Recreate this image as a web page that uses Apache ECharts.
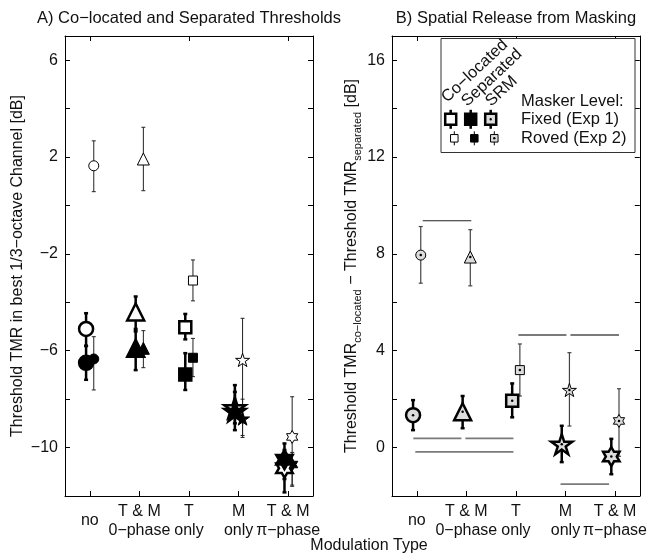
<!DOCTYPE html>
<html><head><meta charset="utf-8">
<script src="https://cdn.jsdelivr.net/npm/echarts@6/dist/echarts.min.js"></script>
<style>html,body{margin:0;padding:0;background:#fff}#c{width:650px;height:557px}</style>
</head><body><div id="c"></div>
<script>
// ---------------- data ----------------
const categories = ['no', 'T & M\n0\u2212phase', 'T\nonly', 'M\nonly', 'T & M\n\u03c0\u2212phase'];
const leftTicks = [6, 2, -2, -6, -10];
const rightTicks = [16, 12, 8, 4, 0];

// Panel A: thresholds (mean, lower, upper)
const fixedColocMean = [-5.1, -4.4, -5.03, -8.35, -10.85];
const fixedColocLo   = [-5.8, -5.2, -5.53, -9.0, -11.85];
const fixedColocHi   = [-4.45, -3.76, -4.48, -7.42, -10.1];

const fixedSepMean = [-6.5, -5.9, -6.98, -8.5, -10.5];
const fixedSepLo   = [-7.2, -6.8, -7.62, -9.28, -11.3];
const fixedSepHi   = [-5.8, -5.1, -6.1, -7.7, -9.83];

const rovedColocMean = [1.64, 1.92, -3.1, -6.38, -9.56];
const rovedColocLo   = [0.57, 0.61, -3.94, -9.58, -11.6];
const rovedColocHi   = [2.67, 3.23, -2.25, -4.66, -7.9];

const rovedSepMean = [-6.34, -5.9, -6.29, -8.8, -10.7];
const rovedSepLo   = [-7.62, -6.7, -7.07, -9.5, -11.55];
const rovedSepHi   = [-5.42, -5.17, -5.49, -8.0, -10.2];

// Panel B: spatial release from masking
const fixedSrmMean = [1.34, 1.48, 1.93, 0.14, -0.37];
const fixedSrmLo   = [0.72, 0.8, 1.25, -0.6, -1.1];
const fixedSrmHi   = [1.96, 2.13, 2.65, 0.9, 0.36];

const rovedSrmMean = [7.95, 7.87, 3.2, 2.38, 1.1];
const rovedSrmLo   = [6.79, 6.68, 2.13, 0.89, -0.36];
const rovedSrmHi   = [9.13, 9.0, 4.28, 3.92, 2.43];

// significance bars in panel B: [x start, x end, y]
const sigLines = [
  [1.12, 2.1, 9.37],
  [0.93, 1.9, 0.38],
  [1.98, 2.95, 0.38],
  [0.97, 2.95, -0.18],
  [3.05, 4.02, 4.65],
  [4.1, 5.08, 4.65],
  [3.9, 4.88, -1.51]
];

// ---------------- styling ----------------
const FONT = 'Liberation Sans, Arial, Helvetica, sans-serif';
const TXT = '#111';
function starPath(n, rIn) {
  let d = '';
  for (let k = 0; k < 2 * n; k++) {
    const r = k % 2 === 0 ? 1 : rIn;
    const a = -Math.PI / 2 + k * Math.PI / n;
    d += (k === 0 ? 'M' : 'L') + (r * Math.cos(a)).toFixed(4) + ' ' + (r * Math.sin(a)).toFixed(4) + ' ';
  }
  return 'path://' + d + 'Z';
}
const PENTA = starPath(5, 0.382);
const HEXA = starPath(6, 0.577);
const shapes = ['circle', 'triangle', 'rect', PENTA, HEXA];
const bigSize = [14, 17, 12, 21, 19];
const smallSize = [10, 12, 9, 14, 13];
const OFF_BIG = -0.075, OFF_SMALL = 0.08;
const SRM_FILL = '#dcdcdc';

function fmt(v) { return String(v).replace('-', '\u2212'); }

function markerSeries(xi, yi, means, off, sizes, fill, lw) {
  return {
    type: 'scatter', xAxisIndex: xi, yAxisIndex: yi, z: 5, silent: true,
    symbolKeepAspect: true,
    data: means.map((m, i) => ({ value: [i + 1 + off, m], symbol: shapes[i], symbolSize: sizes[i] })),
    itemStyle: { color: fill, borderColor: '#000', borderWidth: lw, opacity: 1 }
  };
}
function dotSeries(xi, yi, means, off) {
  return {
    type: 'scatter', xAxisIndex: xi, yAxisIndex: yi, z: 6, silent: true,
    symbol: 'circle', symbolSize: 2.5,
    data: means.map((m, i) => [i + 1 + off, m]),
    itemStyle: { color: '#000', opacity: 1 }
  };
}
function errSeries(xi, yi, lo, hi, off, lw, color, cap) {
  return {
    type: 'custom', xAxisIndex: xi, yAxisIndex: yi, z: 3, silent: true,
    data: lo.map((l, i) => [i + 1 + off, l, hi[i]]),
    renderItem: function (params, api) {
      const a = api.coord([api.value(0), api.value(1)]);
      const b = api.coord([api.value(0), api.value(2)]);
      const st = { stroke: color, lineWidth: lw };
      return {
        type: 'group', children: [
          { type: 'line', shape: { x1: a[0], y1: a[1], x2: b[0], y2: b[1] }, style: st },
          { type: 'line', shape: { x1: a[0] - cap, y1: a[1], x2: a[0] + cap, y2: a[1] }, style: st },
          { type: 'line', shape: { x1: b[0] - cap, y1: b[1], x2: b[0] + cap, y2: b[1] }, style: st }
        ]
      };
    }
  };
}
function sigSeries() {
  return {
    type: 'custom', xAxisIndex: 5, yAxisIndex: 2, z: 2, silent: true,
    data: sigLines,
    renderItem: function (params, api) {
      const a = api.coord([api.value(0), api.value(2)]);
      const b = api.coord([api.value(1), api.value(2)]);
      const first = params.dataIndex === 0;
      return { type: 'line', shape: { x1: a[0], y1: a[1], x2: b[0], y2: b[1] },
        style: { stroke: first ? '#222' : '#7a7a7a', lineWidth: first ? 1.2 : 1.8 } };
    }
  };
}

const grids = [
  { left: 65, top: 36, width: 248, height: 460 },
  { left: 392, top: 36, width: 248, height: 460 }
];
const axLine = { show: true, onZero: false, lineStyle: { color: '#000', width: 1 } };
function catAxis(g, pos, labels) {
  return {
    type: 'category', gridIndex: g, position: pos, data: categories, boundaryGap: true,
    axisLine: axLine,
    axisTick: { show: true, alignWithLabel: true, inside: true, length: 5, lineStyle: { color: '#000' } },
    axisLabel: labels ? { show: true, interval: 0, fontSize: 16, lineHeight: 19, color: TXT, fontFamily: FONT,
      verticalAlign: 'middle', margin: 25 } : { show: false },
    splitLine: { show: false }
  };
}
function valX(g) { return { type: 'value', gridIndex: g, min: 0.5, max: 5.5, show: false, axisLine: { onZero: false } }; }
function valY(g, pos, min, max, ticks, labels, name, nameGap, rich) {
  const ax = {
    type: 'value', gridIndex: g, position: pos, min: min, max: max, interval: 2,
    axisLine: axLine,
    axisTick: { show: true, inside: true, length: 5, lineStyle: { color: '#000' } },
    axisLabel: labels ? { show: true, fontSize: 16, color: TXT, fontFamily: FONT, margin: 7,
      formatter: v => ticks.indexOf(v) >= 0 ? fmt(v) : '' } : { show: false },
    splitLine: { show: false }
  };
  if (name) {
    ax.name = name; ax.nameLocation = 'middle'; ax.nameGap = nameGap;
    ax.nameTextStyle = { fontSize: 16, color: TXT, fontFamily: FONT };
    if (rich) ax.nameTextStyle.rich = rich;
  }
  return ax;
}

const richName = {
  m: { fontSize: 16, color: TXT, fontFamily: FONT, lineHeight: 22, verticalAlign: 'middle' },
  s: { fontSize: 11, color: TXT, fontFamily: FONT, lineHeight: 10, verticalAlign: 'bottom' }
};

const option = {
  animation: false,
  backgroundColor: '#fff',
  grid: grids,
  xAxis: [catAxis(0, 'bottom', true), catAxis(0, 'top', false), valX(0),
          catAxis(1, 'bottom', true), catAxis(1, 'top', false), valX(1)],
  yAxis: [
    valY(0, 'left', -12, 7, leftTicks, true, 'Threshold TMR in best 1/3\u2212octave Channel [dB]', 39),
    valY(0, 'right', -12, 7, leftTicks, false),
    valY(1, 'left', -2, 17, rightTicks, true,
      '{m|Threshold TMR}{s|co\u2212located}{m| \u2212 Threshold TMR}{s|separated}{m| [dB]}', 29, richName),
    valY(1, 'right', -2, 17, rightTicks, false)
  ],
  series: [
    // Panel A error bars
    errSeries(2, 0, fixedColocLo, fixedColocHi, OFF_BIG, 2.5, '#000', 2),
    errSeries(2, 0, fixedSepLo, fixedSepHi, OFF_BIG, 2.5, '#000', 2),
    errSeries(2, 0, rovedColocLo, rovedColocHi, OFF_SMALL, 1, '#222', 2),
    errSeries(2, 0, rovedSepLo, rovedSepHi, OFF_SMALL, 1, '#222', 2),
    // Panel A markers
    markerSeries(2, 0, rovedColocMean, OFF_SMALL, smallSize, '#fff', 1),
    markerSeries(2, 0, rovedSepMean, OFF_SMALL, smallSize, '#000', 1),
    markerSeries(2, 0, fixedColocMean, OFF_BIG, bigSize, '#fff', 2.5),
    markerSeries(2, 0, fixedSepMean, OFF_BIG, bigSize, '#000', 2.5),
    // Panel B
    sigSeries(),
    errSeries(5, 2, rovedSrmLo, rovedSrmHi, OFF_SMALL, 1.2, '#444', 2),
    errSeries(5, 2, fixedSrmLo, fixedSrmHi, OFF_BIG, 2.5, '#000', 2),
    markerSeries(5, 2, rovedSrmMean, OFF_SMALL, smallSize, SRM_FILL, 1),
    markerSeries(5, 2, fixedSrmMean, OFF_BIG, bigSize, SRM_FILL, 2.5),
    dotSeries(5, 2, rovedSrmMean, OFF_SMALL),
    dotSeries(5, 2, fixedSrmMean, OFF_BIG)
  ],
  graphic: [
    { type: 'text', x: 189, y: 18.5, style: { text: 'A) Co\u2212located and Separated Thresholds', fontSize: 16.5, fontFamily: FONT, fill: TXT, textAlign: 'center', textVerticalAlign: 'middle' } },
    { type: 'text', x: 516, y: 18.5, style: { text: 'B) Spatial Release from Masking', fontSize: 16.5, fontFamily: FONT, fill: TXT, textAlign: 'center', textVerticalAlign: 'middle' } },
    { type: 'text', x: 369, y: 546, style: { text: 'Modulation Type', fontSize: 16, fontFamily: FONT, fill: TXT, textAlign: 'center', textVerticalAlign: 'middle' } },
    // legend box
    { type: 'rect', z: 50, shape: { x: 441, y: 38.5, width: 194, height: 114 }, style: { fill: '#fff', stroke: '#333', lineWidth: 1 } },
    { type: 'text', z: 51, x: 450, y: 106, rotation: Math.PI * 0.24, style: { text: 'Co\u2212located', fontSize: 16.5, fontFamily: FONT, fill: TXT, textAlign: 'left', textVerticalAlign: 'bottom' } },
    { type: 'text', z: 51, x: 470, y: 110, rotation: Math.PI * 0.24, style: { text: 'Separated', fontSize: 16.5, fontFamily: FONT, fill: TXT, textAlign: 'left', textVerticalAlign: 'bottom' } },
    { type: 'text', z: 51, x: 494, y: 110, rotation: Math.PI * 0.24, style: { text: 'SRM', fontSize: 16.5, fontFamily: FONT, fill: TXT, textAlign: 'left', textVerticalAlign: 'bottom' } },
    { type: 'text', z: 51, x: 521, y: 101, style: { text: 'Masker Level:', fontSize: 16.5, fontFamily: FONT, fill: TXT, textAlign: 'left', textVerticalAlign: 'middle' } },
    { type: 'text', z: 51, x: 521, y: 119.5, style: { text: 'Fixed (Exp 1)', fontSize: 16.5, fontFamily: FONT, fill: TXT, textAlign: 'left', textVerticalAlign: 'middle' } },
    { type: 'text', z: 51, x: 521, y: 138.5, style: { text: 'Roved (Exp 2)', fontSize: 16.5, fontFamily: FONT, fill: TXT, textAlign: 'left', textVerticalAlign: 'middle' } }
  ]
};

// legend swatches
const swatchFills = ['#fff', '#000', SRM_FILL];
const bigX = [450.7, 470.7, 490.7], smallX = [454.3, 474.3, 494.3];
function swatch(cx, cy, s, lw, stub, fill, dot) {
  const els = [
    { type: 'line', z: 51, shape: { x1: cx, y1: cy - stub, x2: cx, y2: cy + stub }, style: { stroke: '#000', lineWidth: lw } },
    { type: 'rect', z: 52, shape: { x: cx - s / 2, y: cy - s / 2, width: s, height: s }, style: { fill: fill, stroke: '#000', lineWidth: lw } }
  ];
  if (dot) els.push({ type: 'circle', z: 53, shape: { cx: cx, cy: cy, r: 1.2 }, style: { fill: '#000' } });
  return els;
}
for (let k = 0; k < 3; k++) {
  option.graphic.push(...swatch(bigX[k], 119.3, 11, 2.5, 9.5, swatchFills[k], k === 2));
  option.graphic.push(...swatch(smallX[k], 138.3, 7.5, 1, 7, swatchFills[k], k === 2));
}

const chart = echarts.init(document.getElementById('c'), null, { renderer: 'canvas' });
chart.setOption(option);
</script>
</body></html>
